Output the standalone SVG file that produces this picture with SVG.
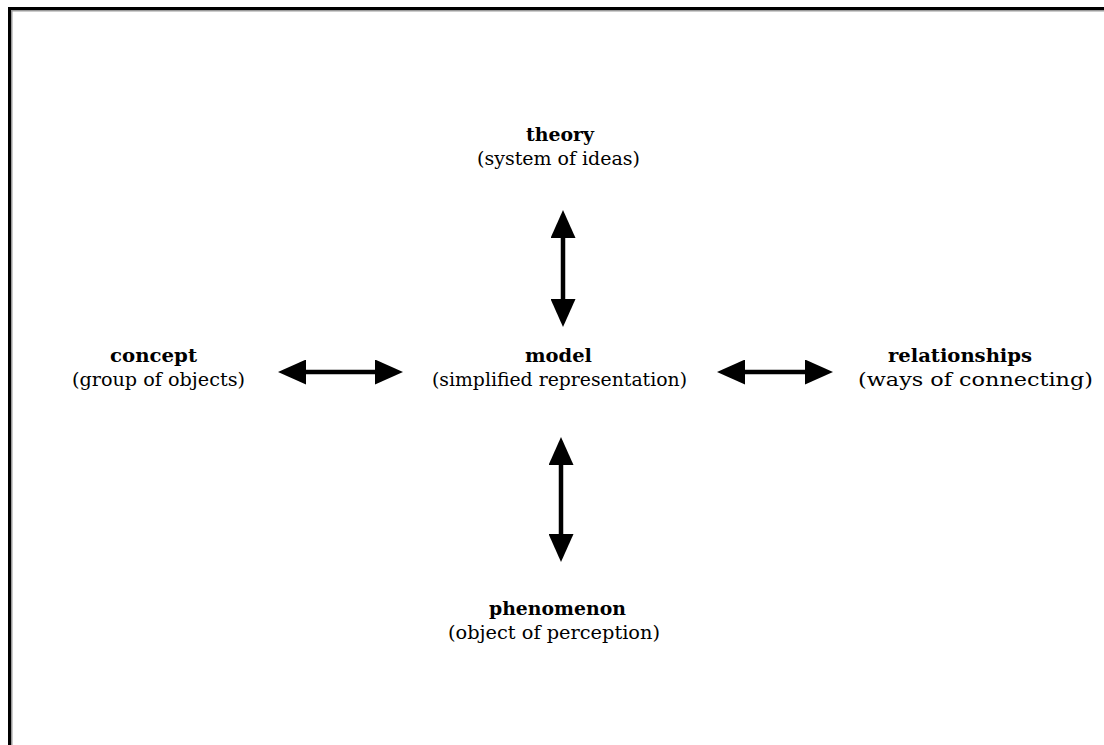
<svg xmlns="http://www.w3.org/2000/svg" width="1104" height="745" viewBox="0 0 1104 745">
  <style>
    .t { font-family: "DejaVu Serif", "Liberation Serif", serif; font-size: 19px; font-weight: bold; fill: #000; }
    .s { font-family: "DejaVu Serif", "Liberation Serif", serif; font-size: 19px; fill: #000; }
    .c { stroke: #000; stroke-width: 4.5; fill: none; marker-start: url(#ah); marker-end: url(#ah); }
  </style>
  <defs>
    <marker id="ah" markerUnits="userSpaceOnUse" markerWidth="28" markerHeight="25" refX="18" refY="12.5" orient="auto-start-reverse" viewBox="0 0 28 25">
      <path d="M0,0 L28,12.5 L0,25 Z" fill="#000"/>
    </marker>
  </defs>
  <rect width="1104" height="745" fill="#fff"/>
  <g id="frame">
    <rect x="8" y="7" width="1096" height="3" fill="#000"/>
    <rect x="8" y="7" width="3" height="738" fill="#000"/>
    <rect x="11" y="10" width="1093" height="1.5" fill="#9a9a9a"/>
    <rect x="11" y="10" width="1.5" height="735" fill="#9a9a9a"/>
  </g>
  <g id="connectors">
    <line class="c" x1="563" y1="220" x2="563" y2="317"/>
    <line class="c" x1="561" y1="447" x2="561" y2="552"/>
    <line class="c" x1="288" y1="372" x2="393" y2="372"/>
    <line class="c" x1="727" y1="372" x2="823" y2="372"/>
  </g>
  <g id="theory">
    <text class="t" x="526" y="141" textLength="68" lengthAdjust="spacingAndGlyphs">theory</text>
    <text class="s" x="477" y="165" textLength="163" lengthAdjust="spacingAndGlyphs">(system of ideas)</text>
  </g>
  <g id="concept">
    <text class="t" x="110" y="362" textLength="87" lengthAdjust="spacingAndGlyphs">concept</text>
    <text class="s" x="72" y="386" textLength="173" lengthAdjust="spacingAndGlyphs">(group of objects)</text>
  </g>
  <g id="model">
    <text class="t" x="525" y="362" textLength="67" lengthAdjust="spacingAndGlyphs">model</text>
    <text class="s" x="432" y="386" textLength="255" lengthAdjust="spacingAndGlyphs">(simplified representation)</text>
  </g>
  <g id="relationships">
    <text class="t" x="888" y="362" textLength="144" lengthAdjust="spacingAndGlyphs">relationships</text>
    <text class="s" x="858" y="386" textLength="235" lengthAdjust="spacingAndGlyphs">(ways of connecting)</text>
  </g>
  <g id="phenomenon">
    <text class="t" x="489" y="615" textLength="137" lengthAdjust="spacingAndGlyphs">phenomenon</text>
    <text class="s" x="448" y="639" textLength="212" lengthAdjust="spacingAndGlyphs">(object of perception)</text>
  </g>
</svg>
